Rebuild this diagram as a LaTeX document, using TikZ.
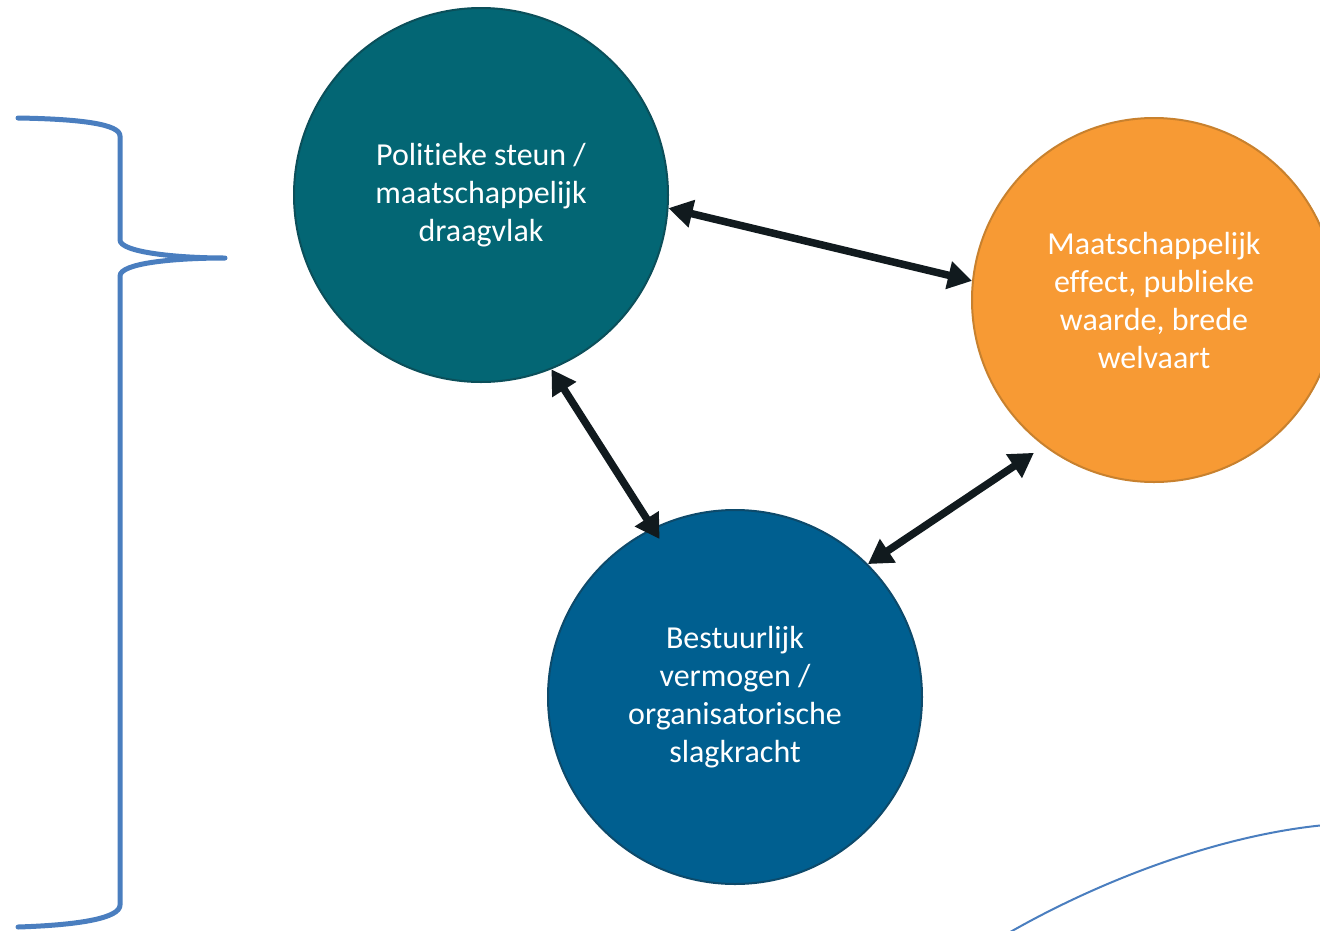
\documentclass[tikz,border=0pt]{standalone}
\usepackage{fontspec}
\setmainfont{Carlito}[Ligatures=NoCommon]
\usetikzlibrary{arrows.meta}

\definecolor{steunfill}{HTML}{036674}
\definecolor{steunline}{HTML}{0B4F5A}
\definecolor{effectfill}{HTML}{F79A34}
\definecolor{effectline}{HTML}{C8812E}
\definecolor{bestuurfill}{HTML}{005F90}
\definecolor{bestuurline}{HTML}{0D4A6B}
\definecolor{linkblack}{HTML}{111A1E}
\definecolor{braceblue}{HTML}{4A7EBF}

\begin{document}
\begin{tikzpicture}[x=1pt,y=-1pt]
        \tikzstyle{every node}=[font=\fontsize{32}{38}\selectfont, text=white]
        \tikzstyle{bubble}=[circle, inner sep=0pt, line width=2pt, align=center]
        \tikzstyle{link}=[draw=linkblack, line width=7.5pt, {Triangle[length=24pt,width=27pt]}-{Triangle[length=24pt,width=27pt]}]
        \clip (0,0) rectangle (1320,930);

        \node[bubble, minimum size=374pt, fill=steunfill, draw=steunline] (steun) at (481,195) {Politieke steun /\\maatschappelijk\\draagvlak};
        \node[bubble, minimum size=364pt, fill=effectfill, draw=effectline] (effect) at (1154,300) {Maatschappelijk\\effect, publieke\\waarde, brede\\welvaart};
        \node[bubble, minimum size=374pt, fill=bestuurfill, draw=bestuurline] (bestuur) at (735,697) {Bestuurlijk\\vermogen /\\organisatorische\\slagkracht};

        \draw[link] (steun.-4) -- (effect.174);
        \draw[link, shorten >=-13pt] (steun.-68) -- (bestuur.116);
        \draw[link, shorten >=12pt] (bestuur.45) -- (effect.-127);

        % accolade links
        \draw[braceblue, line width=5pt, line cap=round, line join=round]
            (18,118) .. controls (80,119) and (120,124) .. (120,136) -- (120,240)
            .. controls (120,252) and (175,258) .. (225,258)
            .. controls (175,258) and (120,263) .. (120,276) -- (120,905)
            .. controls (120,918) and (80,925) .. (18,927);

        % boog rechtsonder
        \draw[braceblue, line width=2pt] (1005,935) .. controls (1100,880) and (1220,835) .. (1325,825);
\end{tikzpicture}
\end{document}
